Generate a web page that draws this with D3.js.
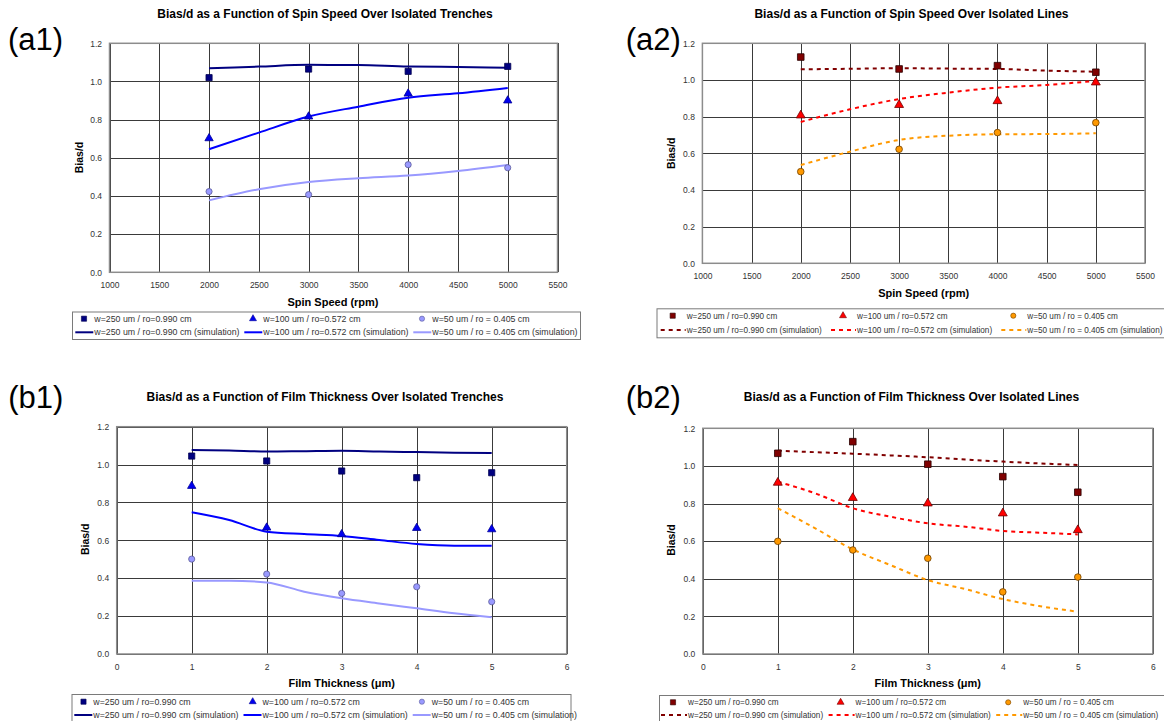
<!DOCTYPE html>
<html>
<head>
<meta charset="utf-8">
<script src="https://cdn.jsdelivr.net/npm/d3@7"></script>
<style>
  body { margin: 0; background: #fff; }
  text { font-family: "Liberation Sans", Arial, sans-serif; }
</style>
</head>
<body>
<script>

// ---- data ----
const spinSpeed = [2000, 3000, 4000, 5000]
const spinSpeedSim = [2000, 2500, 3000, 3500, 4000, 4500, 5000]
const thickness = [1, 2, 3, 4, 5]
const thicknessSim = [1, 1.5, 2, 2.5, 3, 3.5, 4, 4.5, 5]

const spinTicks = [1000, 1500, 2000, 2500, 3000, 3500, 4000, 4500, 5000, 5500]
const thickTicks = [0, 1, 2, 3, 4, 5, 6]
const biasTicks = [0, 0.2, 0.4, 0.6, 0.8, 1.0, 1.2]

const seriesNames = ["w=250 um / ro=0.990 cm", "w=100 um / ro=0.572 cm", "w=50 um / ro = 0.405 cm"]
const simSuffix = " (simulation)"
const panelLabels = ["(a1)", "(a2)", "(b1)", "(b2)"]
const panelTitles = [
  "Bias/d as a Function of Spin Speed Over Isolated Trenches",
  "Bias/d as a Function of Spin Speed Over Isolated Lines",
  "Bias/d as a Function of Film Thickness Over Isolated Trenches",
  "Bias/d as a Function of Film Thickness Over Isolated Lines"
]
const xTitles = ["Spin Speed (rpm)", "Film Thickness (\u03bcm)"]
const yTitle = "Bias/d"

// (a1) trenches vs spin speed
const a1Measured250 = [1.020, 1.065, 1.053, 1.079]
const a1Measured100 = [0.702, 0.816, 0.936, 0.900]
const a1Measured50 = [0.423, 0.407, 0.564, 0.548]
const a1Sim250 = [1.069, 1.078, 1.087, 1.086, 1.078, 1.076, 1.072]
const a1Sim100 = [0.645, 0.732, 0.816, 0.868, 0.915, 0.938, 0.966]
const a1Sim50 = [0.377, 0.435, 0.473, 0.493, 0.507, 0.531, 0.562]

// (a2) lines vs spin speed
const a2Measured250 = [1.125, 1.060, 1.078, 1.042]
const a2Measured100 = [0.807, 0.864, 0.885, 0.987]
const a2Measured50 = [0.500, 0.622, 0.713, 0.767]
const a2Sim250 = [1.058, 1.061, 1.064, 1.062, 1.060, 1.051, 1.045]
const a2Sim100 = [0.771, 0.840, 0.896, 0.931, 0.958, 0.973, 0.995]
const a2Sim50 = [0.536, 0.609, 0.673, 0.696, 0.704, 0.705, 0.709]

// (b1) trenches vs film thickness
const b1Measured250 = [1.045, 1.019, 0.966, 0.931, 0.957]
const b1Measured100 = [0.887, 0.667, 0.632, 0.665, 0.658]
const b1Measured50 = [0.501, 0.422, 0.320, 0.355, 0.276]
const b1Sim250 = [1.077, 1.074, 1.069, 1.071, 1.073, 1.069, 1.066, 1.063, 1.061]
const b1Sim100 = [0.748, 0.707, 0.646, 0.633, 0.623, 0.602, 0.581, 0.572, 0.572]
const b1Sim50 = [0.387, 0.387, 0.378, 0.329, 0.294, 0.267, 0.241, 0.215, 0.194]

// (b2) lines vs film thickness
const b2Measured250 = [1.067, 1.129, 1.009, 0.943, 0.860]
const b2Measured100 = [0.911, 0.830, 0.801, 0.748, 0.659]
const b2Measured50 = [0.599, 0.553, 0.509, 0.330, 0.409]
const b2Sim250 = [1.081, 1.073, 1.065, 1.056, 1.046, 1.034, 1.023, 1.013, 1.005]
const b2Sim100 = [0.916, 0.854, 0.775, 0.730, 0.695, 0.677, 0.654, 0.645, 0.636]
const b2Sim50 = [0.775, 0.668, 0.556, 0.473, 0.393, 0.345, 0.292, 0.254, 0.225]


// ---- styles ----
const trenchStyle = {
  markerFill: ["#000080", "#0000ee", "#9999ff"],
  markerStroke: ["#000050", "#000099", "#5c5c99"],
  lineColor: ["#000080", "#0000ff", "#9999ff"],
  dash: null,
  markerScale: 1,
  legendFont: 8.8
}
const lineStyle = {
  markerFill: ["#800000", "#ff0000", "#ff9900"],
  markerStroke: ["#2a0000", "#700000", "#704000"],
  lineColor: ["#800000", "#ff0000", "#ff9900"],
  dash: "4,4",
  markerScale: 1.15,
  legendFont: 8.2
}
const symbols = [d3.symbolSquare, d3.symbolTriangle, d3.symbolCircle]
const symbolSizes = [38, 30, 30]

const svg = d3.select("body")
  .append("svg")
    .attr("width", 1164)
    .attr("height", 721)
    .style("display", "block")

function drawPanel(p) {

  const g = svg.append("g")
  const plotW = p.plot.right - p.plot.left
  const plotH = p.plot.bottom - p.plot.top

  // 1. scales
  const xScale = d3.scaleLinear()
    .domain(p.xDomain)
    .range([p.plot.left, p.plot.right])
  const yScale = d3.scaleLinear()
    .domain([0, 1.2])
    .range([p.plot.bottom, p.plot.top])

  // 2. grid + axes
  const yAxis = g.append("g")
    .attr("transform", `translate(${p.plot.left},0)`)
    .call(d3.axisLeft(yScale)
      .tickValues(biasTicks)
      .tickFormat(d3.format(".1f"))
      .tickSize(-plotW)
      .tickPadding(7.5))
  const xAxis = g.append("g")
    .attr("transform", `translate(0,${p.plot.bottom})`)
    .call(d3.axisBottom(xScale)
      .tickValues(p.xTicks)
      .tickFormat(d3.format("d"))
      .tickSize(-plotH)
      .tickPadding(10))

  ;[yAxis, xAxis].forEach(ax => {
    ax.select(".domain").remove()
    ax.selectAll("line")
      .attr("stroke", "#3a3a3a")
      .attr("shape-rendering", "crispEdges")
    ax.selectAll("text")
      .attr("fill", "#333")
      .style("font-size", "8.5px")
      .style("font-family", "'Liberation Sans', Arial, sans-serif")
  })

  // plot border
  g.append("rect")
    .attr("x", p.plot.left)
    .attr("y", p.plot.top)
    .attr("width", plotW)
    .attr("height", plotH)
    .attr("fill", "none")
    .attr("stroke", "#8c8c8c")
    .attr("stroke-width", 1.5)

  // 3. simulation curves
  const lineGenerator = d3.line()
    .x(d => xScale(d[0]))
    .y(d => yScale(d[1]))
    .curve(d3.curveMonotoneX)

  p.sim.forEach((vals, i) => {
    g.append("path")
      .attr("d", lineGenerator(d3.zip(p.simX, vals)))
      .attr("fill", "none")
      .attr("stroke", p.style.lineColor[i])
      .attr("stroke-width", 2)
      .attr("stroke-dasharray", p.style.dash)
  })

  // 4. measured points
  p.measured.forEach((vals, i) => {
    g.selectAll(null)
      .data(d3.zip(p.x, vals))
      .join("path")
        .attr("transform", d => `translate(${xScale(d[0])},${yScale(d[1])})`)
        .attr("d", d3.symbol(symbols[i], symbolSizes[i] * p.style.markerScale))
        .attr("fill", p.style.markerFill[i])
        .attr("stroke", p.style.markerStroke[i])
        .attr("stroke-width", 0.8)
  })

  // 5. texts
  g.append("text")
    .attr("x", p.titleX)
    .attr("y", p.titleY)
    .attr("text-anchor", "middle")
    .style("font-size", "12px")
    .style("font-weight", "bold")
    .text(p.title)

  g.append("text")
    .attr("x", p.labelX)
    .attr("y", p.labelY)
    .style("font-size", "31px")
    .text(p.label)

  g.append("text")
    .attr("transform", `translate(${p.yTitleX},${p.yTitleY}) rotate(-90)`)
    .attr("text-anchor", "middle")
    .attr("dy", "0.35em")
    .style("font-size", "10.5px")
    .style("font-weight", "bold")
    .text(yTitle)

  g.append("text")
    .attr("x", p.xTitleX)
    .attr("y", p.xTitleY)
    .attr("text-anchor", "middle")
    .attr("dy", "0.35em")
    .style("font-size", "11px")
    .style("font-weight", "bold")
    .text(p.xTitle)

  // 6. legend
  const L = p.legend
  g.append("rect")
    .attr("x", L.x + 0.5)
    .attr("y", L.y + 0.5)
    .attr("width", L.w)
    .attr("height", L.h)
    .attr("fill", "#fff")
    .attr("stroke", "#7a7a7a")

  seriesNames.forEach((name, i) => {
    const tx = L.textX + i * L.colW
    g.append("path")
      .attr("transform", `translate(${tx - L.markerGap},${L.row1})`)
      .attr("d", d3.symbol(symbols[i], symbolSizes[i] * 0.7))
      .attr("fill", p.style.markerFill[i])
      .attr("stroke", p.style.markerStroke[i])
      .attr("stroke-width", 0.6)
    g.append("text")
      .attr("x", tx)
      .attr("y", L.row1)
      .attr("dy", "0.35em")
      .attr("fill", "#333")
      .style("font-size", p.style.legendFont + "px")
      .text(name)

    g.append("line")
      .attr("x1", tx - L.sample)
      .attr("x2", tx - 1)
      .attr("y1", L.row2)
      .attr("y2", L.row2)
      .attr("stroke", p.style.lineColor[i])
      .attr("stroke-width", 2)
      .attr("stroke-dasharray", p.style.dash)
    g.append("text")
      .attr("x", tx)
      .attr("y", L.row2)
      .attr("dy", "0.35em")
      .attr("fill", "#333")
      .style("font-size", p.style.legendFont + "px")
      .text(name + simSuffix)
  })
}

const panels = [
  {
    label: panelLabels[0], title: panelTitles[0], xTitle: xTitles[0],
    x: spinSpeed, simX: spinSpeedSim, xDomain: [1000, 5500], xTicks: spinTicks,
    measured: [a1Measured250, a1Measured100, a1Measured50],
    sim: [a1Sim250, a1Sim100, a1Sim50],
    style: trenchStyle,
    plot: { left: 109.5, right: 557.5, top: 43.3, bottom: 272.3 },
    titleX: 325, titleY: 17.5, labelX: 8, labelY: 50,
    yTitleX: 79, yTitleY: 157.5, xTitleX: 333, xTitleY: 302,
    legend: { x: 72, y: 311.5, w: 508, h: 27.5, textX: 94.3, colW: 169, markerGap: 10.3, sample: 19, row1: 318.7, row2: 332.3 }
  },
  {
    label: panelLabels[1], title: panelTitles[1], xTitle: xTitles[0],
    x: spinSpeed, simX: spinSpeedSim, xDomain: [1000, 5500], xTicks: spinTicks,
    measured: [a2Measured250, a2Measured100, a2Measured50],
    sim: [a2Sim250, a2Sim100, a2Sim50],
    style: lineStyle,
    plot: { left: 702.4, right: 1145, top: 43.3, bottom: 263.3 },
    titleX: 911.5, titleY: 17.5, labelX: 625.7, labelY: 50,
    yTitleX: 671.7, yTitleY: 153.3, xTitleX: 923.7, xTitleY: 293.3,
    legend: { x: 656.5, y: 308.3, w: 520, h: 29, textX: 686.7, colW: 170.3, markerGap: 14, sample: 26, row1: 315.7, row2: 330 }
  },
  {
    label: panelLabels[2], title: panelTitles[2], xTitle: xTitles[1],
    x: thickness, simX: thicknessSim, xDomain: [0, 6], xTicks: thickTicks,
    measured: [b1Measured250, b1Measured100, b1Measured50],
    sim: [b1Sim250, b1Sim100, b1Sim50],
    style: trenchStyle,
    plot: { left: 116.7, right: 566.7, top: 426.7, bottom: 654 },
    titleX: 325, titleY: 400.9, labelX: 8.3, labelY: 408.4,
    yTitleX: 85.8, yTitleY: 539.3, xTitleX: 341.7, xTitleY: 683.3,
    legend: { x: 71.5, y: 694, w: 499, h: 30, textX: 93.3, colW: 169.2, markerGap: 9.8, sample: 19, row1: 701.7, row2: 715 }
  },
  {
    label: panelLabels[3], title: panelTitles[3], xTitle: xTitles[1],
    x: thickness, simX: thicknessSim, xDomain: [0, 6], xTicks: thickTicks,
    measured: [b2Measured250, b2Measured100, b2Measured50],
    sim: [b2Sim250, b2Sim100, b2Sim50],
    style: lineStyle,
    plot: { left: 702.8, right: 1152.8, top: 428.3, bottom: 654 },
    titleX: 911.5, titleY: 400.9, labelX: 625.7, labelY: 408.4,
    yTitleX: 671.2, yTitleY: 540, xTitleX: 927.8, xTitleY: 683.3,
    legend: { x: 659, y: 695, w: 520, h: 30, textX: 688, colW: 167.6, markerGap: 15, sample: 27, row1: 702.3, row2: 715 }
  }
]

panels.forEach(drawPanel)

</script>
</body>
</html>
